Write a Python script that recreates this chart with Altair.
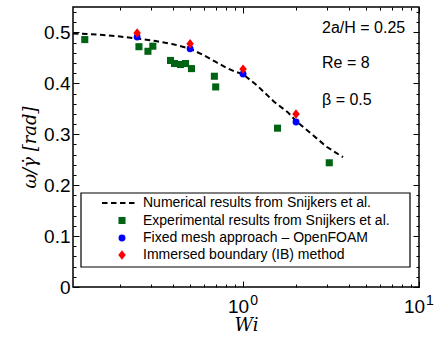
import altair as alt
import pandas as pd

# ---- data ----
line_wi = [0.108, 0.13, 0.16, 0.2, 0.25, 0.32, 0.4, 0.5, 0.6, 0.7, 0.8, 0.9, 1.0, 1.2, 1.5, 1.8, 2.0, 2.5, 3.0, 3.7]
line_ratio = [0.498, 0.497, 0.495, 0.492, 0.488, 0.483, 0.477, 0.468, 0.455, 0.442, 0.431, 0.423, 0.418, 0.396, 0.364, 0.343, 0.326, 0.298, 0.275, 0.255]

exp_wi = [0.126, 0.256, 0.288, 0.307, 0.387, 0.408, 0.441, 0.471, 0.509, 0.687, 0.699, 1.57, 3.09]
exp_ratio = [0.486, 0.472, 0.463, 0.473, 0.445, 0.439, 0.437, 0.439, 0.429, 0.414, 0.393, 0.312, 0.244]

fm_wi = [0.25, 0.5, 1.0, 2.0]
fm_ratio = [0.491, 0.468, 0.4185, 0.324]

ib_wi = [0.25, 0.5, 1.0, 2.0]
ib_ratio = [0.499, 0.478, 0.428, 0.340]

x_major = [1, 10]
x_exponents = ["0", "1"]
x_minor = [0.2, 0.3, 0.4, 0.5, 0.6, 0.7, 0.8, 0.9, 2, 3, 4, 5, 6, 7, 8, 9]
y_major = [0, 0.1, 0.2, 0.3, 0.4, 0.5]
y_minor = [0.02, 0.04, 0.06, 0.08, 0.12, 0.14, 0.16, 0.18, 0.22, 0.24, 0.26, 0.28,
           0.32, 0.34, 0.36, 0.38, 0.42, 0.44, 0.46, 0.48, 0.52, 0.54]

legend_labels = [
    "Numerical results from Snijkers et al.",
    "Experimental results from Snijkers et al.",
    "Fixed mesh approach \u2013 OpenFOAM",
    "Immersed boundary (IB) method",
]
annotations = ["2a/H = 0.25", "Re = 8", "\u03b2 = 0.5"]

GREEN = "#006414"
BLUE = "#0000ff"
RED = "#ff0000"
DIAMOND = "M0,-1.2L0.95,0L0,1.2L-0.95,0Z"

W, H = 346, 280
xscale = alt.Scale(type="log", domain=[0.108, 10], nice=False)
yscale = alt.Scale(domain=[0, 0.55], nice=False, zero=False)

SANS = "Liberation Sans"
SERIF = "DejaVu Serif"


def ax(orient, values, size, labels=False, **kw):
    return alt.Axis(orient=orient, values=values, tickSize=size, offset=-size,
                    domain=False, grid=False, labels=labels, tickColor="black",
                    tickWidth=1, **kw)


x_major_bottom = ax("bottom", x_major, 6, labels=True, labelExpr="'10'",
                    labelFont=SANS, labelFontSize=19, labelPadding=10, labelOffset=-5,
                    labelFlush=False, labelColor="black", title="Wi", titleFont=SERIF,
                    titleFontStyle="italic", titleFontWeight="normal",
                    titleFontSize=18, titlePadding=0, titleColor="black")
x_minor_bottom = ax("bottom", x_minor, 3, title=None)
x_major_top = ax("top", x_major, 6, title=None)
x_minor_top = ax("top", x_minor, 3, title=None)

y_major_left = ax("left", y_major, 6, labels=True,
                  labelExpr="datum.value == 0 ? '0' : format(datum.value, '.1f')",
                  labelFont=SANS, labelFontSize=19, labelPadding=3, labelColor="black",
                  labelFlush=False,
                  title="\u03c9/\u03b3\u0307 [rad]", titleFont=SERIF, titleFontStyle="italic",
                  titleFontWeight="normal", titleFontSize=18, titlePadding=4,
                  titleColor="black")
y_minor_left = ax("left", y_minor, 3, title=None)
y_major_right = ax("right", y_major, 6, title=None)
y_minor_right = ax("right", y_minor, 3, title=None)

df_line = pd.DataFrame({"wi": line_wi, "r": line_ratio})
df_exp = pd.DataFrame({"wi": exp_wi, "r": exp_ratio})
df_fm = pd.DataFrame({"wi": fm_wi, "r": fm_ratio})
df_ib = pd.DataFrame({"wi": ib_wi, "r": ib_ratio})

line = alt.Chart(df_line).mark_line(color="black", strokeWidth=2, strokeDash=[5.5, 3.5]).encode(
    x=alt.X("wi:Q", scale=xscale, axis=x_major_bottom),
    y=alt.Y("r:Q", scale=yscale, axis=y_major_left),
)
squares = alt.Chart(df_exp).mark_point(shape="square", filled=True, color=GREEN, size=50, opacity=1).encode(
    x=alt.X("wi:Q", scale=xscale, axis=x_minor_bottom),
    y=alt.Y("r:Q", scale=yscale, axis=y_minor_left),
)
circles = alt.Chart(df_fm).mark_point(shape="circle", filled=True, color=BLUE, size=48, opacity=1).encode(
    x=alt.X("wi:Q", scale=xscale, axis=x_major_top),
    y=alt.Y("r:Q", scale=yscale, axis=y_major_right),
)
diamonds = alt.Chart(df_ib).mark_point(shape=DIAMOND, filled=True, color=RED, size=62, opacity=1).encode(
    x=alt.X("wi:Q", scale=xscale, axis=x_minor_top),
    y=alt.Y("r:Q", scale=yscale, axis=y_minor_right),
)

df_exps = pd.DataFrame({"v": x_major, "e": x_exponents})
exps = alt.Chart(df_exps).mark_text(font=SANS, fontSize=14, color="black", align="center",
                                    baseline="middle", dx=11).encode(
    x=alt.X("v:Q", scale=xscale, axis=None),
    y=alt.value(H + 14),
    text="e:N",
)

# annotations
ann_layers = []
for txt, yy in zip(annotations, [21, 56, 93]):
    ann_layers.append(
        alt.Chart(pd.DataFrame({"t": [txt]})).mark_text(
            font=SANS, fontSize=16, color="black", align="left", baseline="middle"
        ).encode(x=alt.value(249), y=alt.value(yy), text="t:N")
    )

# legend
one = pd.DataFrame({"t": [legend_labels[0]]})
leg_box = alt.Chart(one).mark_rect(fill="white", stroke="black", strokeWidth=1.2).encode(
    x=alt.value(8), x2=alt.value(337), y=alt.value(186), y2=alt.value(260)
)
leg_line = alt.Chart(one).mark_rule(color="black", strokeWidth=2, strokeDash=[5.5, 3.5]).encode(
    x=alt.value(29), x2=alt.value(64), y=alt.value(196)
)
leg_sq = alt.Chart(one).mark_point(shape="square", filled=True, color=GREEN, size=50, opacity=1).encode(
    x=alt.value(49), y=alt.value(213.5)
)
leg_ci = alt.Chart(one).mark_point(shape="circle", filled=True, color=BLUE, size=48, opacity=1).encode(
    x=alt.value(49), y=alt.value(231)
)
leg_di = alt.Chart(one).mark_point(shape=DIAMOND, filled=True, color=RED, size=62, opacity=1).encode(
    x=alt.value(49), y=alt.value(248)
)
leg_texts = []
for lab, yy in zip(legend_labels, [196, 213.5, 231, 248]):
    leg_texts.append(
        alt.Chart(pd.DataFrame({"t": [lab]})).mark_text(
            font=SANS, fontSize=14, color="black", align="left", baseline="middle"
        ).encode(x=alt.value(70), y=alt.value(yy), text="t:N")
    )

chart = alt.layer(
    line, squares, circles, diamonds, exps, *ann_layers,
    leg_box, leg_line, leg_sq, leg_ci, leg_di, *leg_texts
).resolve_axis(x="independent", y="independent").properties(
    width=W, height=H,
    autosize=alt.AutoSizeParams(type="none"),
    padding={"left": 73, "top": 7, "right": 15, "bottom": 50},
    background="white",
).configure_view(stroke="black", strokeWidth=1.5)

chart.save("out.html", embed_options={"renderer": "svg", "actions": False})
